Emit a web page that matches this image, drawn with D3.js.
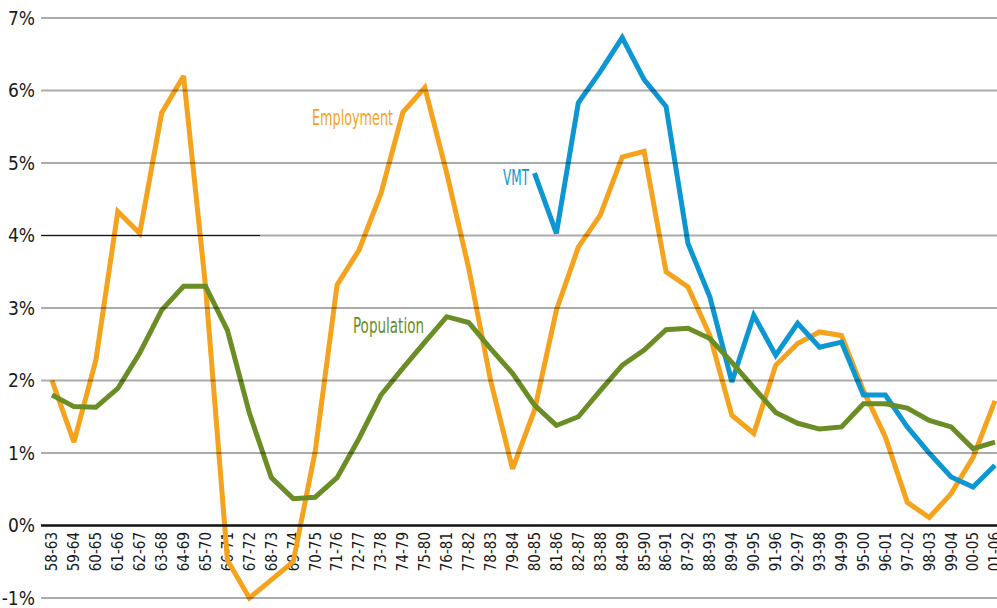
<!DOCTYPE html>
<html>
<head>
<meta charset="utf-8">
<script src="https://cdn.jsdelivr.net/npm/d3@7"></script>
<style>
  html, body { margin: 0; padding: 0; background: #fff; }
  svg { display: block; }
</style>
</head>
<body>
<div id="chart"></div>
<script>
// Five-year growth rates, by period
const periods = [
  '58-63', '59-64', '60-65', '61-66', '62-67', '63-68', '64-69', '65-70', '66-71', '67-72',
  '68-73', '69-74', '70-75', '71-76', '72-77', '73-78', '74-79', '75-80', '76-81', '77-82',
  '78-83', '79-84', '80-85', '81-86', '82-87', '83-88', '84-89', '85-90', '86-91', '87-92',
  '88-93', '89-94', '90-95', '91-96', '92-97', '93-98', '94-99', '95-00', '96-01', '97-02',
  '98-03', '99-04', '00-05', '01-06'
];

const employment = [
  2.0, 1.15, 2.28, 4.33, 4.03, 5.69, 6.2, 3.3, -0.48, -1.0,
  -0.75, -0.5, 1.02, 3.32, 3.8, 4.58, 5.7, 6.04, 4.86, 3.55,
  2.0, 0.78, 1.59, 2.97, 3.84, 4.28, 5.08, 5.16, 3.5, 3.29,
  2.62, 1.52, 1.27, 2.21, 2.51, 2.67, 2.62, 1.86, 1.22, 0.32,
  0.11, 0.44, 0.94, 1.72
];

const population = [
  1.8, 1.64, 1.63, 1.89, 2.38, 2.97, 3.3, 3.3, 2.69, 1.55,
  0.66, 0.37, 0.39, 0.66, 1.2, 1.8, 2.17, 2.53, 2.88, 2.8,
  2.44, 2.1, 1.66, 1.38, 1.5, 1.86, 2.21, 2.42, 2.7, 2.72,
  2.58, 2.25, 1.9, 1.56, 1.41, 1.33, 1.36, 1.68, 1.68, 1.62,
  1.45, 1.36, 1.06, 1.15
];

// VMT series begins with 80-85
const vmt = [
  null, null, null, null, null, null, null, null, null, null,
  null, null, null, null, null, null, null, null, null, null,
  null, null, 4.86, 4.03, 5.83, 6.26, 6.73, 6.15, 5.78, 3.89,
  3.15, 1.98, 2.9, 2.35, 2.79, 2.46, 2.53, 1.8, 1.8, 1.36,
  1.0, 0.67, 0.53, 0.83
];

const yTicks = [-1, 0, 1, 2, 3, 4, 5, 6, 7];

const W = 997, H = 608;
const FONT = '"Liberation Sans Narrow", "DejaVu Sans Condensed", "Liberation Sans", sans-serif';

const svg = d3.select('#chart').append('svg')
  .attr('width', W).attr('height', H);

const x = d3.scalePoint().domain(periods).range([52, 995]);
const y = d3.scaleLinear().domain([-1, 7]).range([598, 18]);

const gridLeft = 41;

// y labels
svg.append('g').selectAll('text')
  .data(yTicks).join('text')
  .attr('x', 35).attr('y', d => y(d))
  .attr('dy', '0.36em')
  .attr('text-anchor', 'end')
  .attr('font-family', FONT)
  .attr('font-size', 19)
  .attr('font-weight', 500)
  .attr('fill', '#1a1a1a')
  .text(d => d + '%');

// x labels (rotated)
svg.append('g').selectAll('text')
  .data(periods).join('text')
  .attr('transform', d => `translate(${x(d)},532) rotate(-90)`)
  .attr('dy', '0.36em')
  .attr('text-anchor', 'end')
  .attr('font-family', FONT)
  .attr('font-size', 15)
  .attr('fill', '#1a1a1a')
  .text(d => d);

// series
const line = d3.line()
  .defined(d => d.v != null)
  .x(d => x(d.p))
  .y(d => y(d.v));

const series = [
  { name: 'Employment', values: employment, color: '#F5A21D' },
  { name: 'VMT', values: vmt, color: '#0D97D2' },
  { name: 'Population', values: population, color: '#6A8D25' }
];

svg.append('g').selectAll('path')
  .data(series).join('path')
  .attr('d', s => line(s.values.map((v, i) => ({ p: periods[i], v }))))
  .attr('fill', 'none')
  .attr('stroke', s => s.color)
  .attr('stroke-width', 5)
  .attr('stroke-linejoin', 'miter')
  .attr('stroke-miterlimit', 3);

// grid lines drawn over the data
const grid = svg.append('g');
grid.selectAll('line')
  .data(yTicks.filter(d => d !== 0)).join('line')
  .attr('x1', gridLeft).attr('x2', W)
  .attr('y1', d => y(d)).attr('y2', d => y(d))
  .attr('stroke', '#000')
  .attr('stroke-opacity', 0.33)
  .attr('stroke-width', 2);

// darker stub on the 4% line
grid.append('line')
  .attr('x1', gridLeft).attr('x2', 260)
  .attr('y1', y(4)).attr('y2', y(4))
  .attr('stroke', '#111')
  .attr('stroke-width', 1.2);

// zero baseline
grid.append('line')
  .attr('x1', gridLeft).attr('x2', W)
  .attr('y1', y(0)).attr('y2', y(0))
  .attr('stroke', '#111')
  .attr('stroke-width', 2.5);

// series labels
const labels = [
  { text: 'Employment', x: 312, y: 125, color: '#F5A21D', len: 81 },
  { text: 'VMT', x: 503, y: 185, color: '#0D97D2', len: 26 },
  { text: 'Population', x: 353, y: 333, color: '#6A8D25', len: 71 }
];

svg.append('g').selectAll('text')
  .data(labels).join('text')
  .attr('x', d => d.x).attr('y', d => d.y)
  .attr('font-family', FONT)
  .attr('font-size', 21)
  .attr('textLength', d => d.len)
  .attr('lengthAdjust', 'spacingAndGlyphs')
  .attr('fill', d => d.color)
  .text(d => d.text);
</script>
</body>
</html>
